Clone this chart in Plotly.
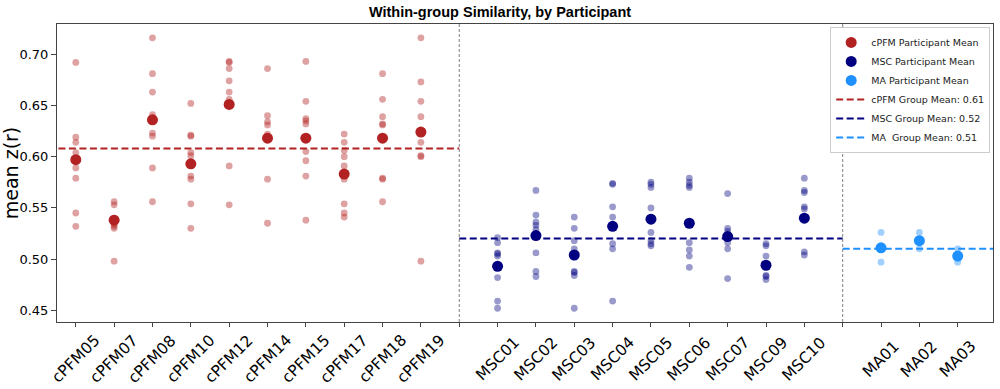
import numpy as np
import plotly.graph_objects as go

# ---------------- data ----------------
cpfm_ids = ["cPFM05", "cPFM07", "cPFM08", "cPFM10", "cPFM12",
            "cPFM14", "cPFM15", "cPFM17", "cPFM18", "cPFM19"]
cpfm_points = [
    [0.692, 0.619, 0.614, 0.604, 0.589, 0.579, 0.545, 0.532],
    [0.556, 0.553, 0.540, 0.534, 0.532, 0.530, 0.498],
    [0.716, 0.681, 0.663, 0.641, 0.623, 0.620, 0.589, 0.556],
    [0.652, 0.621, 0.620, 0.604, 0.601, 0.581, 0.578, 0.554, 0.530],
    [0.693, 0.692, 0.686, 0.674, 0.663, 0.656, 0.591, 0.553],
    [0.686, 0.640, 0.634, 0.631, 0.622, 0.578, 0.535],
    [0.693, 0.654, 0.637, 0.635, 0.632, 0.605, 0.596, 0.581, 0.538],
    [0.622, 0.614, 0.606, 0.600, 0.591, 0.578, 0.554, 0.545, 0.541],
    [0.681, 0.656, 0.639, 0.632, 0.631, 0.617, 0.579, 0.578, 0.556],
    [0.716, 0.673, 0.654, 0.639, 0.614, 0.601, 0.600, 0.498],
]
cpfm_means = [0.597, 0.538, 0.636, 0.593, 0.651, 0.618, 0.618, 0.583, 0.618, 0.624]
cpfm_group_mean = 0.608

msc_ids = ["MSC01", "MSC02", "MSC03", "MSC04", "MSC05",
           "MSC06", "MSC07", "MSC09", "MSC10"]
msc_points = [
    [0.521, 0.516, 0.506, 0.505, 0.503, 0.482, 0.459, 0.452],
    [0.567, 0.543, 0.536, 0.533, 0.529, 0.506, 0.488, 0.483],
    [0.541, 0.530, 0.518, 0.510, 0.488, 0.487, 0.484, 0.452],
    [0.574, 0.573, 0.551, 0.541, 0.515, 0.510, 0.459],
    [0.575, 0.573, 0.570, 0.550, 0.526, 0.518, 0.515, 0.513],
    [0.579, 0.575, 0.572, 0.570, 0.516, 0.509, 0.503, 0.492],
    [0.564, 0.530, 0.527, 0.522, 0.516, 0.510, 0.481],
    [0.515, 0.513, 0.503, 0.484, 0.483, 0.480],
    [0.579, 0.567, 0.565, 0.551, 0.549, 0.507, 0.504],
]
msc_means = [0.493, 0.523, 0.504, 0.532, 0.539, 0.535, 0.522, 0.494, 0.540]
msc_group_mean = 0.520

ma_ids = ["MA01", "MA02", "MA03"]
ma_points = [
    [0.526, 0.511, 0.497],
    [0.526, 0.518, 0.510],
    [0.510, 0.503, 0.497],
]
ma_means = [0.511, 0.518, 0.503]
ma_group_mean = 0.510

group_names = ["cPFM", "MSC", "MA"]
group_colors = ["#B22222", "#000080", "#1E90FF"]
point_colors = ["rgba(178,34,34,0.42)", "rgba(0,0,128,0.40)", "rgba(30,144,255,0.42)"]

groups = [
    (cpfm_ids, cpfm_points, cpfm_means, cpfm_group_mean),
    (msc_ids, msc_points, msc_means, msc_group_mean),
    (ma_ids, ma_points, ma_means, ma_group_mean),
]

FONT = "DejaVu Sans"

fig = go.Figure()

tickvals, ticklabels, dividers = [], [], []
offset = 0
layout_info = []
for gi, (ids, pts, means, gmean) in enumerate(groups):
    pos = list(range(offset, offset + len(ids)))
    layout_info.append(pos)
    tickvals += pos
    ticklabels += list(zip(pos, ids))
    offset += len(ids)
    if gi < len(groups) - 1:
        dividers.append(offset)
        tickvals.append(offset)
    offset += 1

# group mean lines (drawn first, below markers)
for gi, (ids, pts, means, gmean) in enumerate(groups):
    pos = layout_info[gi]
    x0 = pos[0] - 1
    x1 = pos[-1] + 1
    label = f"{group_names[gi]} Group Mean: {gmean:.2f}"
    if group_names[gi] == "MA":
        label = f"MA\u00a0 Group Mean: {gmean:.2f}"
    fig.add_trace(go.Scatter(
        x=[x0, x1], y=[gmean, gmean], mode="lines",
        line=dict(color=group_colors[gi], width=2, dash="7px,3.5px"),
        name=label, legendrank=4 + gi, hoverinfo="skip"))

# individual points
for gi, (ids, pts, means, gmean) in enumerate(groups):
    pos = layout_info[gi]
    xs, ys = [], []
    for p, vals in zip(pos, pts):
        xs += [p] * len(vals)
        ys += vals
    fig.add_trace(go.Scatter(
        x=xs, y=ys, mode="markers",
        marker=dict(size=6.8, color=point_colors[gi], line=dict(width=0)),
        showlegend=False, hoverinfo="y"))

# participant means
for gi, (ids, pts, means, gmean) in enumerate(groups):
    pos = layout_info[gi]
    fig.add_trace(go.Scatter(
        x=pos, y=means, mode="markers",
        marker=dict(size=11, color=group_colors[gi], line=dict(width=0)),
        name=f"{group_names[gi]} Participant Mean", legendrank=1 + gi))

for d in dividers:
    fig.add_shape(type="line", xref="x", yref="paper", x0=d, x1=d, y0=0, y1=1,
                  line=dict(color="#808080", width=1, dash="3px,2px"))

# x tick labels, rotated 45 degrees and centred under each tick (matplotlib style)
for p, lab in ticklabels:
    fig.add_annotation(x=p, xref="x", y=0, yref="paper", yshift=-37,
                       text=lab, textangle=-45, showarrow=False,
                       xanchor="center", yanchor="middle", borderpad=0,
                       font=dict(family=FONT, size=15.5, color="black"))

fig.update_layout(
    width=1000, height=389,
    margin=dict(l=57, r=7, t=24, b=67, autoexpand=False),
    plot_bgcolor="white", paper_bgcolor="white",
    font=dict(family=FONT, color="black"),
    title=dict(text="<b>Within-group Similarity, by Participant</b>",
               font=dict(family="Liberation Sans", size=14.5, color="black"),
               x=0.5, xref="container", xanchor="center",
               y=1 - 12 / 389, yref="container", yanchor="middle"),
    legend=dict(x=0.997, xanchor="right", y=0.99, yanchor="top",
                bgcolor="white", bordercolor="#cccccc", borderwidth=1,
                font=dict(family=FONT, size=9.5, color="#222"),
                itemwidth=30, tracegroupgap=0),
    showlegend=True,
)
fig.update_xaxes(
    automargin=False,
    range=[-0.49, 23.92], tickmode="array", tickvals=tickvals,
    showticklabels=False,
    ticks="outside", ticklen=4, tickcolor="#444",
    showline=True, linecolor="#444", linewidth=1, mirror=True,
    showgrid=False, zeroline=False)
fig.update_yaxes(
    automargin=False,
    range=[0.4386, 0.7295], tickmode="array",
    tickvals=[0.45, 0.50, 0.55, 0.60, 0.65, 0.70], tickformat=".2f",
    tickfont=dict(family=FONT, size=13, color="black"),
    ticks="outside", ticklen=5, tickcolor="#444",
    showline=True, linecolor="#444", linewidth=1, mirror=True,
    showgrid=False, zeroline=False,
    title=dict(text="mean z(r)", font=dict(family=FONT, size=19, color="black"),
               standoff=2))

fig.write_html(
    "out.html",
    config={"displayModeBar": False},
    post_script="document.body.style.margin='0';document.body.style.padding='0';"
                "document.documentElement.style.overflow='hidden';")
